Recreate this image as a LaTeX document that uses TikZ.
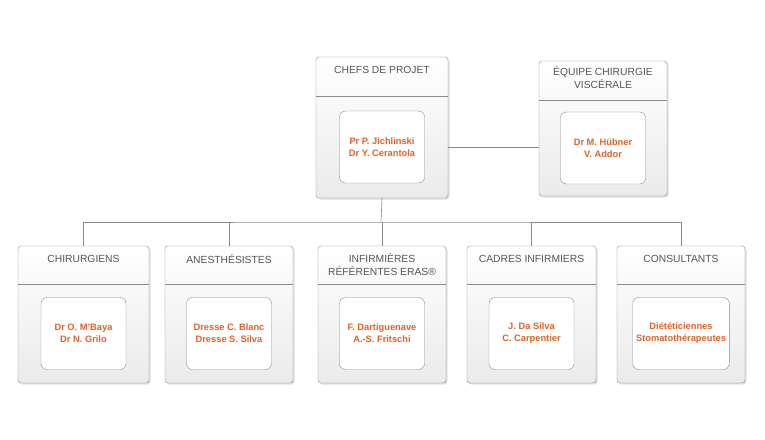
\documentclass[tikz,border=0pt]{standalone}
\usepackage{fontspec}
\setmainfont{Liberation Sans}
\usetikzlibrary{shadows}
\definecolor{org}{HTML}{E0622A}
\definecolor{hdr}{HTML}{555555}
\definecolor{edge}{HTML}{8A8A8A}
\tikzset{
 outer/.style={draw=edge,rounded corners=3pt,top color=white,bottom color=black!8,drop shadow={opacity=0.25,shadow xshift=1.5pt,shadow yshift=-1.5pt}},
 inner/.style={draw=edge,rounded corners=6pt,fill=white,minimum width=85pt,minimum height=72pt,align=center,font=\fontsize{9.3}{12}\selectfont\bfseries,text=org},
 hdrtxt/.style={align=center,font=\fontsize{10.3}{13}\selectfont,text=hdr},
 conn/.style={draw=edge,line width=0.6pt}
}
\newcommand{\orgbox}[9]{%
 \path[outer] (#2,-#3) coordinate (#1tl) rectangle (#4,-#5) coordinate (#1br);
 \draw[edge] (#2,-#6) -- (#4,-#6);
 \node[hdrtxt] (#1h) at ({(#2+#4)/2},{-#7}) {#8};
 \node[inner] (#1i) at ({(#2+#4)/2},{-(#6+#5)/2}) {#9};
 \coordinate (#1top) at ({(#2+#4)/2},-#3);
 \coordinate (#1bot) at ({(#2+#4)/2},-#5);
}
\begin{document}
\begin{tikzpicture}[x=1pt,y=1pt]
\useasboundingbox (0,0) rectangle (765,-439);
\coordinate (bus) at (381,-222);
\orgbox{c}{316}{57}{448}{198}{96}{70}{CHEFS DE PROJET}{Pr P. Jichlinski\\Dr Y. Cerantola}
\orgbox{e}{539}{61}{667}{196}{100}{78}{ÉQUIPE CHIRURGIE\\VISCÉRALE}{Dr M. Hübner\\V. Addor}
\orgbox{a}{18}{246}{149}{383}{284}{259}{CHIRURGIENS}{Dr O. M’Baya\\Dr N. Grilo}
\orgbox{b}{165}{246}{293}{383}{284}{259}{ANESTHÉSISTES}{Dresse C. Blanc\\Dresse S. Silva}
\orgbox{d}{318}{246}{446}{383}{284}{264.5}{INFIRMIÈRES\\RÉFÉRENTES ERAS®}{F. Dartiguenave\\A.-S. Fritschi}
\orgbox{f}{467}{246}{596}{383}{284}{259}{CADRES INFIRMIERS}{J. Da Silva\\C. Carpentier}
\orgbox{g}{617}{246}{745}{383}{284}{259}{CONSULTANTS}{Diététiciennes\\Stomatothérapeutes}
\draw[conn] (cbr |- ci) -- (etl |- ci);
\draw[conn] (cbot) -- (bus);
\draw[conn] (atop) |- (bus) -| (gtop);
\draw[conn] (btop) -- (btop |- bus);
\draw[conn] (dtop) -- (dtop |- bus);
\draw[conn] (ftop) -- (ftop |- bus);
\end{tikzpicture}
\end{document}
